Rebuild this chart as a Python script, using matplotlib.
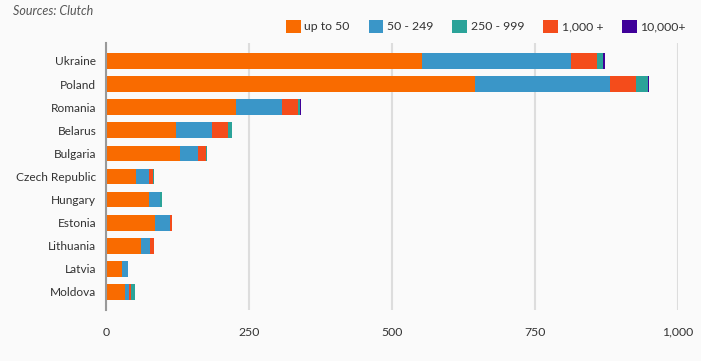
import matplotlib.pyplot as plt
from matplotlib.ticker import FuncFormatter
import numpy as np

plt.rcParams['font.family'] = ['Lato', 'DejaVu Sans']

countries = ['Ukraine', 'Poland', 'Romania', 'Belarus', 'Bulgaria', 'Czech Republic',
             'Hungary', 'Estonia', 'Lithuania', 'Latvia', 'Moldova']
series_names = ['up to 50', '50 - 249', '250 - 999', '1,000 +', '10,000+']
up_to_50 = [553, 645, 227, 123, 129, 52, 75, 86, 61, 28, 33]
s50_249 = [260, 236, 80, 63, 31, 23, 19, 26, 16, 10, 8]
s250_999 = [11, 21, 4, 7, 1, 1, 4, 0, 0, 0, 7]
s1000 = [45, 46, 28, 28, 15, 8, 0, 3, 7, 0, 3]
s10000 = [3, 2, 2, 0, 0, 0, 0, 0, 0, 0, 0]
colors = ['#f96b00', '#3a96c8', '#2ba399', '#f44c1b', '#3f0099']

# stacking order in the bars: orange, blue, red, teal, purple
stack = [(up_to_50, 0), (s50_249, 1), (s1000, 3), (s250_999, 2), (s10000, 4)]

fig = plt.figure(figsize=(7.01, 3.61), dpi=100, facecolor='#fafafa')
ax = fig.add_axes([0.1512, 0.1413, 0.8160, 0.7397])
ax.set_facecolor('#fafafa')

y = np.arange(len(countries))
left = np.zeros(len(countries))
handles = {}
for vals, ci in stack:
    vals = np.array(vals, dtype=float)
    b = ax.barh(y, vals, left=left, height=0.68, color=colors[ci], zorder=3)
    handles[ci] = b
    left += vals

ax.set_xlim(0, 1000)
ax.set_ylim(len(countries) - 1 + 0.78, -0.78)
ax.set_yticks(y)
ax.set_yticklabels(countries, fontsize=8.6, color='#333333')
ax.set_xticks([0, 250, 500, 750, 1000])
ax.xaxis.set_major_formatter(FuncFormatter(lambda v, p: f'{int(v):,}'))
ax.tick_params(axis='x', length=0, pad=12, labelsize=8.8, labelcolor='#333333')
ax.tick_params(axis='y', length=0, pad=7)
ax.grid(axis='x', color='#dddddd', linewidth=1.5, zorder=0)
for s in ['top', 'right', 'bottom']:
    ax.spines[s].set_visible(False)
ax.spines['left'].set_color('#999999')
ax.spines['left'].set_linewidth(1.5)
ax.spines['left'].set_zorder(4)

fig.text(0.0185, 0.97, 'Sources: Clutch', fontsize=9, style='italic', color='#555555',
         va='center')

fig.legend([handles[i] for i in range(5)], series_names, loc='center right',
           bbox_to_anchor=(0.994, 0.927), ncol=5, frameon=False, fontsize=8.8,
           handlelength=1.2, handleheight=1.2, handletextpad=0.3, columnspacing=1.55,
           labelcolor='#333333')

fig.savefig('out.png', dpi=100, facecolor='#fafafa')
